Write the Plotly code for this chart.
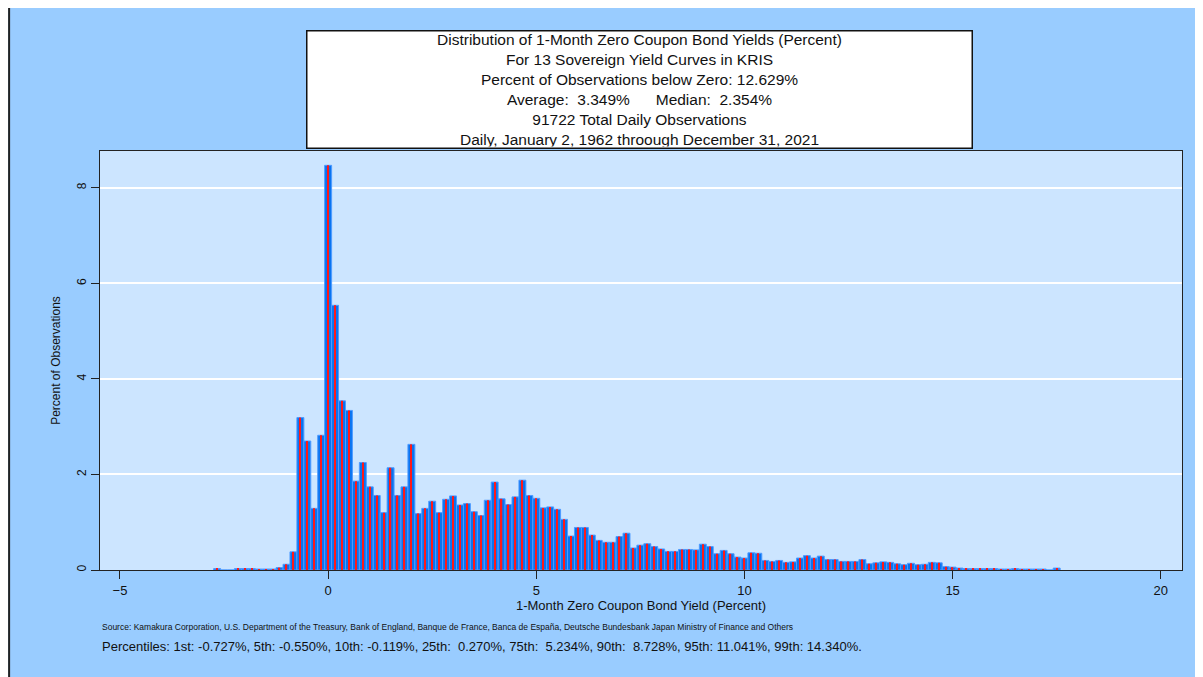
import plotly.graph_objects as go

bin_width = 1 / 6
# bin index k -> bin centred on k/6 percent
bin_index = list(range(-16, 106))
pct_obs = [
    0.03, 0.0, 0.0, 0.03, 0.03, 0.03, 0.02, 0.02, 0.02, 0.05, 0.12, 0.38, 3.19, 2.70, 1.29, 2.82,
    8.47, 5.54, 3.54, 3.34, 1.86, 2.25, 1.74, 1.56, 1.20, 2.14, 1.56, 1.74, 2.63, 1.18, 1.29, 1.44,
    1.20, 1.48, 1.55, 1.36, 1.39, 1.22, 1.14, 1.46, 1.84, 1.49, 1.37, 1.53, 1.88, 1.56, 1.50, 1.30,
    1.32, 1.27, 1.06, 0.71, 0.89, 0.89, 0.73, 0.62, 0.58, 0.58, 0.70, 0.77, 0.46, 0.52, 0.55, 0.49,
    0.44, 0.39, 0.39, 0.43, 0.43, 0.42, 0.54, 0.49, 0.34, 0.41, 0.34, 0.27, 0.25, 0.36, 0.35, 0.20,
    0.18, 0.20, 0.16, 0.17, 0.25, 0.30, 0.25, 0.29, 0.22, 0.22, 0.18, 0.18, 0.18, 0.22, 0.13, 0.15,
    0.17, 0.16, 0.13, 0.11, 0.14, 0.11, 0.12, 0.16, 0.15, 0.07, 0.06, 0.04, 0.03, 0.03, 0.03, 0.03,
    0.03, 0.02, 0.02, 0.03, 0.02, 0.02, 0.02, 0.02, 0.0, 0.04,
]
x_vals = [k * bin_width for k in bin_index]

title_lines = [
    "Distribution of 1-Month Zero Coupon Bond Yields (Percent)",
    "For 13 Sovereign Yield Curves in KRIS",
    "Percent of Observations below Zero: 12.629%",
    "Average:  3.349%      Median:  2.354%",
    "91722 Total Daily Observations",
    "Daily, January 2, 1962 throough December 31, 2021",
]
source_txt = ("Source: Kamakura Corporation, U.S. Department of the Treasury, Bank of England, Banque de France, "
              "Banca de España, Deutsche Bundesbank Japan Ministry of Finance and Others")
pctl_txt = ("Percentiles: 1st: -0.727%, 5th: -0.550%, 10th: -0.119%, 25th:  0.270%, 75th:  5.234%, "
            "90th:  8.728%, 95th: 11.041%, 99th: 14.340%.")

fig = go.Figure()
fig.add_trace(go.Bar(x=x_vals, y=pct_obs, width=bin_width, marker_color="#0a74f0",
                     marker_line=dict(color="#4f9bff", width=1), hoverinfo="x+y"))
fig.add_trace(go.Bar(x=x_vals, y=pct_obs, width=0.03, marker_color="#ff1a1a",
                     marker_line_width=0, hoverinfo="skip"))

fig.update_layout(
    width=1203, height=677, barmode="overlay", showlegend=False,
    paper_bgcolor="#99ccff", plot_bgcolor="#cce5ff",
    margin=dict(l=92, r=29, t=143, b=115, autoexpand=False),
    font=dict(family="Liberation Sans, Arial", color="#111111"),
    xaxis=dict(range=[-5.48, 20.51], tickvals=[-5, 0, 5, 10, 15, 20], ticks="outside",
               ticklen=8, tickcolor="#222", showgrid=False, zeroline=False, automargin=False,
               showline=True, linecolor="#222", mirror=True, tickfont_size=13,
               title=dict(text="1-Month Zero Coupon Bond Yield (Percent)", font_size=13, standoff=2)),
    yaxis=dict(range=[0, 8.77], tickvals=[0, 2, 4, 6, 8], ticks="outside", ticklen=8,
               tickcolor="#222", tickangle=-90, gridcolor="#ffffff", gridwidth=2, automargin=False,
               zeroline=False, showline=True, linecolor="#222", mirror=True, tickfont_size=12,
               title=dict(text="Percent of Observations", font_size=12, standoff=12)),
)
fig.add_shape(type="line", xref="paper", yref="paper", x0=-0.084, x1=-0.084, y0=-0.3, y1=1.5,
              line=dict(color="#222", width=2))
fig.add_annotation(xref="paper", yref="paper", x=0.499, y=1.005, yanchor="bottom",
                   text="<br>".join(title_lines), showarrow=False, bgcolor="#ffffff",
                   bordercolor="#111", borderwidth=1.5, width=662, height=114,
                   font=dict(size=15.5, color="#111"))
fig.add_annotation(xref="paper", yref="paper", x=0.0, y=-0.152, xanchor="left",
                   text=source_txt, showarrow=False, font=dict(size=8.5))
fig.add_annotation(xref="paper", yref="paper", x=0.0, y=-0.205, xanchor="left",
                   text=pctl_txt, showarrow=False, font=dict(size=13))
fig.write_html("out.html")
